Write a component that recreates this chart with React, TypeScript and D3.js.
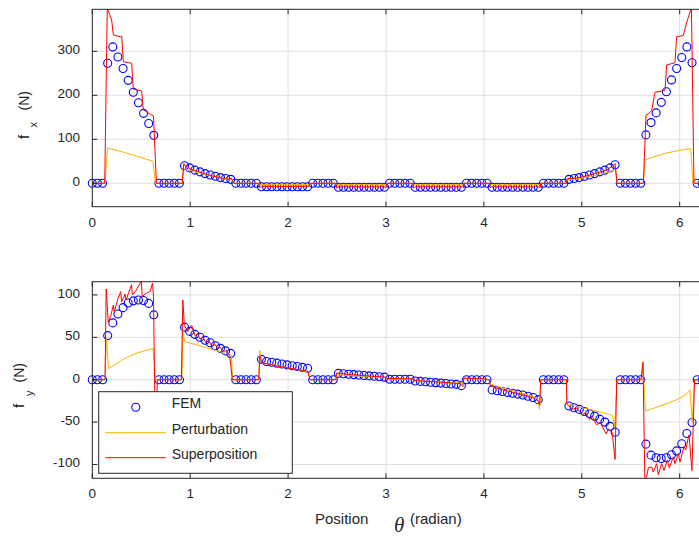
import React from "react";
import * as d3 from "d3";

const TWO_PI = 2 * Math.PI;
const N_FEM = 120;

// FEM samples (one per 2π/120 rad)
const fxFEM = [
  0, 0, 0, 273, 310, 287, 261, 234, 207, 183, 159, 136, 109, 0, 0, 0, 0, 0,
  40, 35, 30, 26, 22, 19, 16, 13, 11, 9, 0, 0, 0, 0, 0,
  -8, -8, -8, -8, -8, -8, -8, -8, -8, -8, 0, 0, 0, 0, 0,
  -9, -9, -9, -9, -9, -9, -9, -9, -9, -9, 0, 0, 0, 0, 0,
  -9, -9, -9, -9, -9, -9, -9, -9, -9, -9, 0, 0, 0, 0, 0,
  -9, -9, -9, -9, -9, -9, -9, -9, -9, -9, 0, 0, 0, 0, 0,
  9, 11, 13, 16, 19, 22, 26, 30, 35, 42, 0, 0, 0, 0, 0,
  110, 138, 160, 184, 208, 235, 261, 286, 310, 274, 0, 0,
];

const fyFEM = [
  0, 0, 0, 52, 67, 77.5, 85, 90.5, 93, 94, 93.5, 90, 76.5, 0, 0, 0, 0, 0,
  62, 57, 53.5, 50, 46.5, 43.5, 40, 37, 34, 31, 0, 0, 0, 0, 0,
  24, 21.5, 20.5, 19.5, 18.5, 17.5, 16.5, 15.5, 14.5, 13.5, 0, 0, 0, 0, 0,
  7.5, 7, 6.5, 6, 5.5, 5, 4.5, 4, 3.5, 3, 0.5, 0.5, 0.5, 0.5, 0.5,
  -1.5, -2, -2.5, -3, -3.5, -4, -4.5, -5, -5.5, -7, 0, 0, 0, 0, 0,
  -12, -13, -14, -15, -16, -17, -18, -19.5, -21, -23.5, 0, 0, 0, 0, 0,
  -31, -33, -35, -37.5, -40, -43, -46.5, -50, -55, -62, 0, 0, 0, 0, 0,
  -76, -89, -92, -93, -92, -88.5, -84, -75.5, -63.5, -50.5, 0, 0,
];

// [theta, value] traces
const fxPerturbation: [number, number][] = [
  [0, 0], [0.13, 0], [0.155, 80], [0.3, 72], [0.45, 62], [0.62, 50], [0.645, 0],
  [0.92, 0], [0.935, 33], [1.0, 29], [1.1, 23], [1.2, 17], [1.3, 13], [1.42, 8], [1.445, 0],
  [1.7, 0], [1.71, -3], [2.215, -3], [2.225, 0], [2.487, 0], [2.495, -3], [3.0, -3], [3.01, 0],
  [3.272, 0], [3.28, -3], [3.79, -3], [3.796, 0], [4.058, 0], [4.065, -3], [4.575, -3], [4.581, 0],
  [4.843, 0], [4.85, 8], [5.0, 12], [5.1, 16], [5.2, 21], [5.3, 28], [5.345, 33], [5.36, 0],
  [5.629, 0], [5.646, 53], [5.734, 60], [5.85, 68], [5.98, 74], [6.113, 79], [6.135, 0], [6.2832, 0],
];

const fxSuperposition: [number, number][] = [
  [0, 0], [0.127, 0], [0.153, 398], [0.198, 371], [0.215, 337], [0.29, 333], [0.3, 335], [0.317, 276],
  [0.402, 273], [0.419, 214], [0.504, 210], [0.521, 167], [0.607, 155], [0.625, 153], [0.655, 0],
  [0.918, 0], [0.935, 45], [0.96, 37], [0.975, 40], [0.99, 33], [1.05, 29], [1.1, 25], [1.2, 18],
  [1.3, 13], [1.4, 9], [1.42, 12], [1.445, 0],
  [1.7, 0], [1.71, -10], [1.73, -7], [2.21, -7], [2.225, 0],
  [2.487, 0], [2.495, -11], [2.51, -8], [2.99, -8], [3.0, -10], [3.01, 0],
  [3.272, 0], [3.28, -11], [3.3, -8], [3.78, -8], [3.79, -10], [3.796, 0],
  [4.058, 0], [4.065, -10], [4.08, -8], [4.56, -8], [4.572, -11], [4.581, 0],
  [4.843, 0], [4.85, 10], [4.95, 12], [5.05, 17], [5.15, 23], [5.25, 30], [5.32, 40], [5.34, 45], [5.36, 0],
  [5.629, 0], [5.656, 155], [5.676, 157], [5.714, 165], [5.748, 207], [5.85, 211], [5.867, 269],
  [5.952, 274], [5.969, 333], [6.037, 336], [6.08, 372], [6.12, 398], [6.146, 0], [6.2832, 0],
];

const fyPerturbation: [number, number][] = [
  [0, 0], [0.13, 0], [0.145, 50], [0.165, 13], [0.22, 17], [0.3, 23], [0.4, 29], [0.5, 33], [0.62, 37], [0.645, 0],
  [0.916, 0], [0.925, 56], [0.945, 45], [1.1, 40], [1.25, 35], [1.42, 29], [1.435, 0],
  [1.7, 0], [1.71, 35], [1.725, 20], [1.9, 16], [2.05, 13], [2.2, 9], [2.225, 0],
  [2.487, 0], [2.495, 6], [2.8, 4], [3.0, 2.5], [3.01, 1], [3.27, 0.5], [3.28, -1], [3.78, -4], [3.796, 1.5], [4.055, 0],
  [4.065, -5], [4.2, -10], [4.4, -16], [4.55, -22], [4.568, -35], [4.581, 0],
  [4.843, 0], [4.85, -28], [5.0, -33], [5.15, -37], [5.31, -42], [5.335, -55], [5.36, 0],
  [5.61, 0], [5.625, 22], [5.65, -37], [5.7, -35], [5.8, -31], [5.9, -27], [6.0, -22], [6.08, -16],
  [6.105, -12], [6.128, -50], [6.152, 0], [6.2832, 0],
];

const fySuperposition: [number, number][] = [
  [0, 0], [0.13, 0], [0.142, 107], [0.163, 68], [0.19, 76], [0.215, 88], [0.225, 80], [0.26, 95],
  [0.29, 104], [0.3, 92], [0.335, 101], [0.345, 94], [0.4, 112], [0.41, 100], [0.44, 104], [0.5, 116],
  [0.51, 98], [0.55, 102], [0.59, 104], [0.615, 114], [0.625, 98], [0.645, -80], [0.665, 0],
  [0.91, 0], [0.925, 94], [0.94, 64], [0.975, 57], [1.0, 62], [1.015, 64], [1.05, 52], [1.075, 54],
  [1.1, 48], [1.13, 50], [1.16, 44], [1.19, 46], [1.22, 40], [1.25, 42], [1.28, 37], [1.31, 38],
  [1.35, 33], [1.37, 35], [1.405, 27], [1.43, 0],
  [1.7, 0], [1.712, 28], [1.73, 20], [1.85, 17], [2.0, 14], [2.1, 12], [2.2, 10], [2.225, 0],
  [2.487, 0], [2.495, 8], [2.6, 6.5], [2.8, 4.5], [3.0, 3], [3.01, 1.5], [3.27, 1], [3.28, -1],
  [3.5, -2.5], [3.76, -4.5], [3.785, -8], [3.796, 2], [4.0, 1], [4.055, 0],
  [4.065, -7], [4.1, -9], [4.2, -12], [4.3, -15], [4.4, -18], [4.5, -21], [4.55, -24], [4.57, -30], [4.581, 0],
  [4.843, 0], [4.848, -29], [4.91, -35], [4.94, -33], [5.01, -41], [5.04, -39], [5.08, -47], [5.11, -44],
  [5.15, -53], [5.19, -51], [5.25, -64], [5.27, -58], [5.31, -62], [5.34, -94], [5.357, 0],
  [5.605, 0], [5.625, 20], [5.645, -125], [5.663, -114], [5.68, -104], [5.714, -103], [5.73, -109],
  [5.765, -99], [5.782, -112], [5.816, -99], [5.84, -107], [5.874, -95], [5.894, -104], [5.935, -91],
  [5.952, -99], [5.986, -87], [6.003, -97], [6.044, -79], [6.061, -83], [6.095, -65], [6.125, -107],
  [6.152, 0], [6.2832, 0],
];

const xTicks = [0, 1, 2, 3, 4, 5, 6];
const fxTicks = [0, 100, 200, 300];
const fyTicks = [-100, -50, 0, 50, 100];
const legendLabels = ["FEM", "Perturbation", "Superposition"];

const W = 699;
const H = 537;
const FONT = "'Liberation Sans', Arial, Helvetica, sans-serif";
const TXT = "#262626";
const AXC = "#262626";
const GRID = "#dfdfdf";
const BLUE = "#0000ff";
const ORANGE = "#f7b500";
const RED = "#ff0000";
const R = 4;

const X0 = 92.3;
const X1 = 707.4;

type PanelProps = {
  id: string;
  top: number;
  bottom: number;
  domain: [number, number];
  ticks: number[];
  fem: number[];
  pert: [number, number][];
  sup: [number, number][];
  labelBase: number;
};

function Panel({ id, top, bottom, domain, ticks, fem, pert, sup, labelBase }: PanelProps) {
  const x = d3.scaleLinear().domain([0, TWO_PI]).range([X0, X1]);
  const y = d3.scaleLinear().domain(domain).range([bottom, top]);
  const line = d3
    .line<[number, number]>()
    .x((d) => x(d[0]))
    .y((d) => y(d[1]));
  const femX = d3.range(N_FEM).map((i) => (i * TWO_PI) / N_FEM);
  const tl = 5;
  return (
    <g>
      <defs>
        <clipPath id={id}>
          <rect x={X0} y={top} width={X1 - X0} height={bottom - top} />
        </clipPath>
      </defs>
      <rect x={X0} y={top} width={X1 - X0} height={bottom - top} fill="#fff" />
      {xTicks.map((t) =>
        t === 0 ? null : (
          <line key={"gx" + t} x1={x(t)} x2={x(t)} y1={top} y2={bottom} stroke={GRID} strokeWidth={1} />
        )
      )}
      {ticks.map((t) => (
        <line key={"gy" + t} x1={X0} x2={X1} y1={y(t)} y2={y(t)} stroke={GRID} strokeWidth={1} />
      ))}
      {fem.map((v, i) => (
        <circle key={"c" + i} cx={x(femX[i])} cy={y(v)} r={R} fill="none" stroke={BLUE} strokeWidth={1.1} />
      ))}
      <g clipPath={`url(#${id})`}>
        <path d={line(pert) || ""} fill="none" stroke={ORANGE} strokeWidth={1} />
        <path d={line(sup) || ""} fill="none" stroke={RED} strokeWidth={1} />
      </g>
      <rect x={X0} y={top} width={X1 - X0} height={bottom - top} fill="none" stroke={AXC} strokeWidth={1} />
      {xTicks.map((t) => (
        <g key={"tx" + t}>
          <line x1={x(t)} x2={x(t)} y1={bottom} y2={bottom - tl} stroke={AXC} />
          <line x1={x(t)} x2={x(t)} y1={top} y2={top + tl} stroke={AXC} />
          <text x={x(t)} y={labelBase} textAnchor="middle" fontSize={13.5} fill={TXT} fontFamily={FONT}>
            {t}
          </text>
        </g>
      ))}
      {ticks.map((t) => (
        <g key={"ty" + t}>
          <line x1={X0} x2={X0 + tl} y1={y(t)} y2={y(t)} stroke={AXC} />
          <text x={80} y={y(t) + 3} textAnchor="end" fontSize={13.5} fill={TXT} fontFamily={FONT}>
            {t}
          </text>
        </g>
      ))}
    </g>
  );
}

function RotText({ x, y, size, children }: { x: number; y: number; size: number; children: React.ReactNode }) {
  return (
    <text transform={`translate(${x},${y}) rotate(-90)`} fontSize={size} fill={TXT} fontFamily={FONT}>
      {children}
    </text>
  );
}

export default function App() {
  return (
    <svg
      width={W}
      height={H}
      viewBox={`0 0 ${W} ${H}`}
      style={{ position: "absolute", left: 0, top: 0, background: "#fff", overflow: "hidden" }}
    >
      <rect x={0} y={0} width={W} height={H} fill="#fff" />
      <Panel
        id="clipTop"
        top={9.3}
        bottom={206.7}
        domain={[-53.2, 395.5]}
        ticks={fxTicks}
        fem={fxFEM}
        pert={fxPerturbation}
        sup={fxSuperposition}
        labelBase={226.7}
      />
      <Panel
        id="clipBot"
        top={281.7}
        bottom={478.3}
        domain={[-116.3, 115.6]}
        ticks={fyTicks}
        fem={fyFEM}
        pert={fyPerturbation}
        sup={fySuperposition}
        labelBase={498.3}
      />
      {/* y labels */}
      <RotText x={28.5} y={139} size={15}>f</RotText>
      <RotText x={37} y={127.5} size={11}>x</RotText>
      <RotText x={28.5} y={110.5} size={14}>(N)</RotText>

      <RotText x={23.5} y={408} size={15}>f</RotText>
      <RotText x={33} y={396} size={11}>y</RotText>
      <RotText x={23.5} y={382.5} size={14}>(N)</RotText>

      {/* x label */}
      <text x={315} y={523.5} fontSize={15} fill={TXT} fontFamily={FONT}>Position</text>
      <text x={394} y={532} fontSize={21} fill={TXT} fontStyle="italic" fontFamily="'Liberation Serif', 'Times New Roman', serif">θ</text>
      <text x={410} y={523.5} fontSize={15} fill={TXT} fontFamily={FONT}>(radian)</text>

      {/* legend */}
      <g>
        <rect x={98.7} y={391.7} width={193.6} height={81.6} fill="#fff" stroke={AXC} strokeWidth={1} />
        <circle cx={135.8} cy={407.2} r={R} fill="none" stroke={BLUE} strokeWidth={1.1} />
        <line x1={105.3} x2={166} y1={432.7} y2={432.7} stroke={ORANGE} strokeWidth={1} />
        <line x1={105.3} x2={166} y1={457.7} y2={457.7} stroke={RED} strokeWidth={1} />
        <text x={171.7} y={408} fontSize={14} fill={TXT} fontFamily={FONT}>{legendLabels[0]}</text>
        <text x={171.7} y={434} fontSize={14} fill={TXT} fontFamily={FONT}>{legendLabels[1]}</text>
        <text x={171.7} y={459} fontSize={14} fill={TXT} fontFamily={FONT}>{legendLabels[2]}</text>
      </g>
    </svg>
  );
}
